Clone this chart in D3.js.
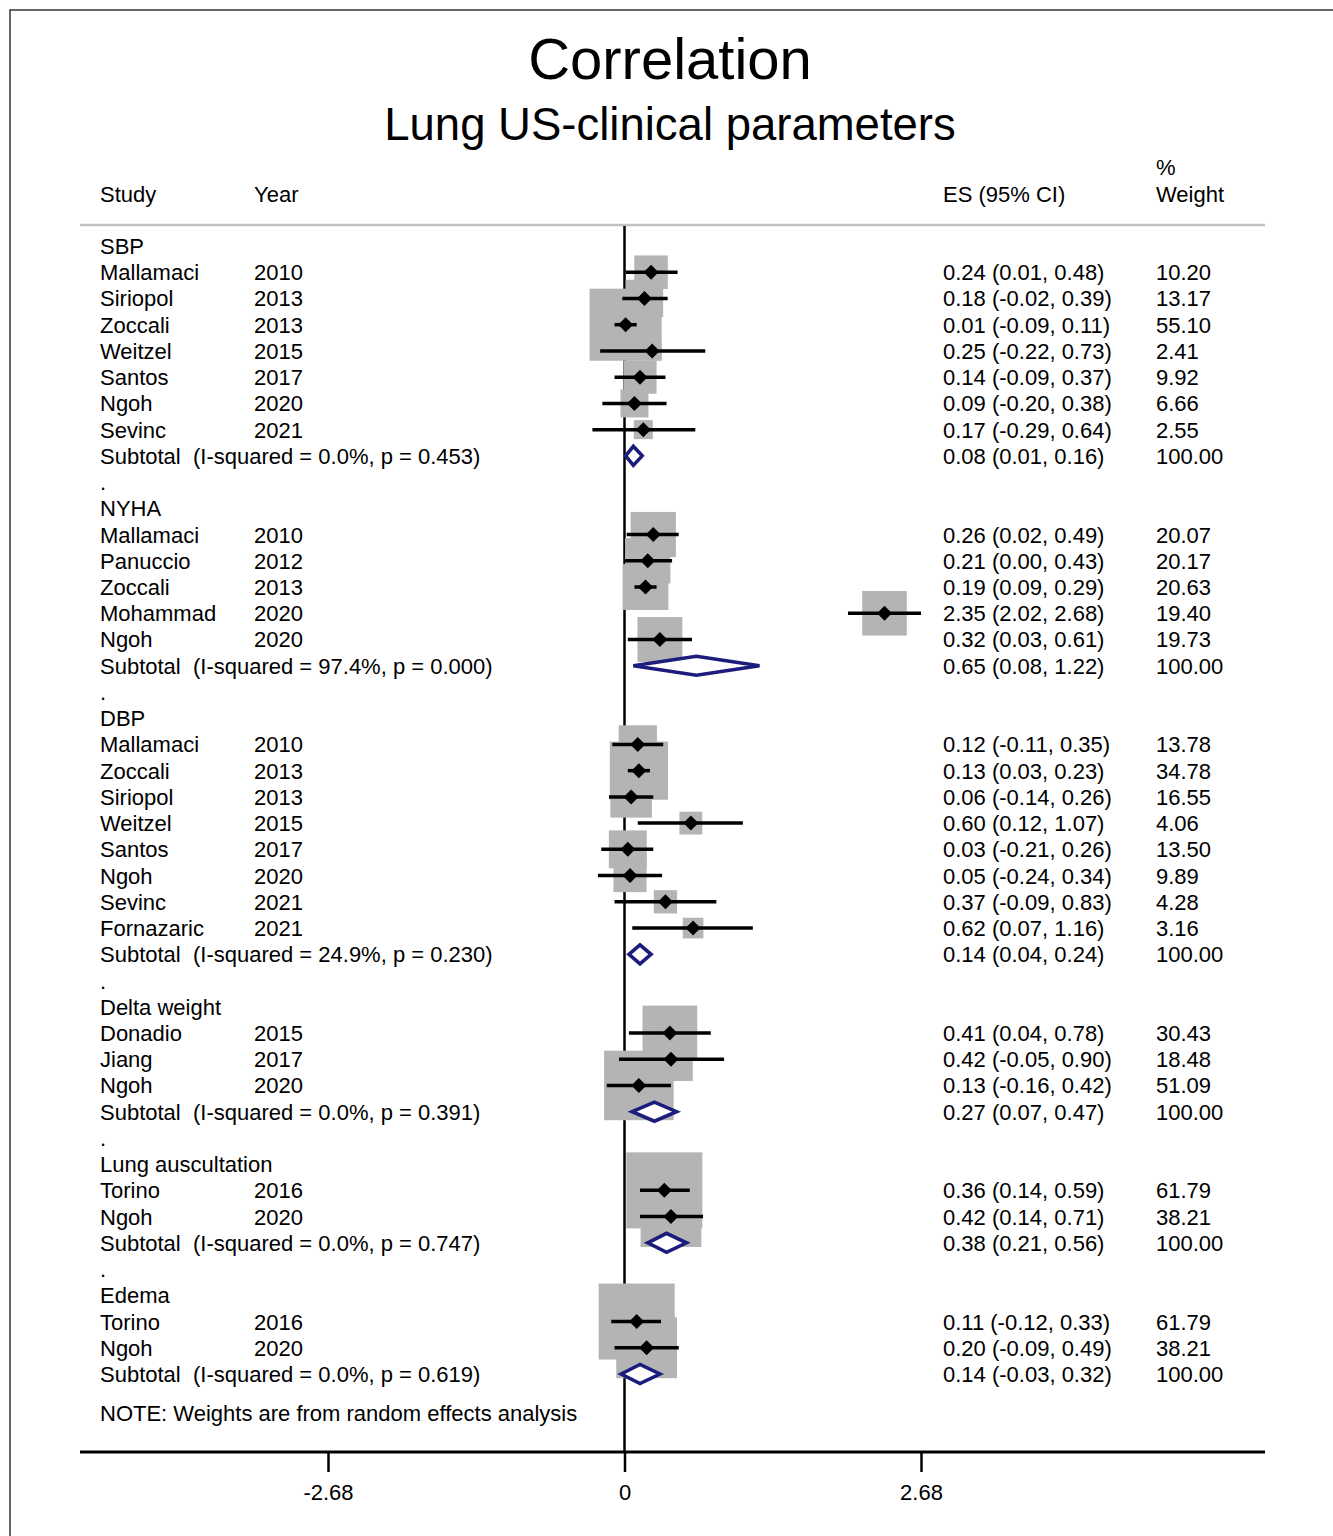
<!DOCTYPE html>
<html>
<head>
<meta charset="utf-8">
<script src="https://cdn.jsdelivr.net/npm/d3@7"></script>
<style>
  html, body { margin: 0; padding: 0; background: #fff; }
  svg text { font-family: "Liberation Sans", Arial, Helvetica, sans-serif; fill: #000; white-space: pre; }
</style>
</head>
<body>
<svg id="chart" width="1333" height="1536"></svg>
<script>
// ---------------- DATA ----------------
const groups = ["SBP", "NYHA", "DBP", "Delta weight", "Lung auscultation", "Edema"];

const studyGroup = [0,0,0,0,0,0,0, 1,1,1,1,1, 2,2,2,2,2,2,2,2, 3,3,3, 4,4, 5,5];
const studyName = ["Mallamaci","Siriopol","Zoccali","Weitzel","Santos","Ngoh","Sevinc",
  "Mallamaci","Panuccio","Zoccali","Mohammad","Ngoh",
  "Mallamaci","Zoccali","Siriopol","Weitzel","Santos","Ngoh","Sevinc","Fornazaric",
  "Donadio","Jiang","Ngoh",
  "Torino","Ngoh",
  "Torino","Ngoh"];
const studyYear = [2010,2013,2013,2015,2017,2020,2021,
  2010,2012,2013,2020,2020,
  2010,2013,2013,2015,2017,2020,2021,2021,
  2015,2017,2020,
  2016,2020,
  2016,2020];
const studyES = [0.24,0.18,0.01,0.25,0.14,0.09,0.17,
  0.26,0.21,0.19,2.35,0.32,
  0.12,0.13,0.06,0.60,0.03,0.05,0.37,0.62,
  0.41,0.42,0.13,
  0.36,0.42,
  0.11,0.20];
const studyLo = [0.01,-0.02,-0.09,-0.22,-0.09,-0.20,-0.29,
  0.02,0.00,0.09,2.02,0.03,
  -0.11,0.03,-0.14,0.12,-0.21,-0.24,-0.09,0.07,
  0.04,-0.05,-0.16,
  0.14,0.14,
  -0.12,-0.09];
const studyHi = [0.48,0.39,0.11,0.73,0.37,0.38,0.64,
  0.49,0.43,0.29,2.68,0.61,
  0.35,0.23,0.26,1.07,0.26,0.34,0.83,1.16,
  0.78,0.90,0.42,
  0.59,0.71,
  0.33,0.49];
const studyWeight = [10.20,13.17,55.10,2.41,9.92,6.66,2.55,
  20.07,20.17,20.63,19.40,19.73,
  13.78,34.78,16.55,4.06,13.50,9.89,4.28,3.16,
  30.43,18.48,51.09,
  61.79,38.21,
  61.79,38.21];

const subI2 = ["0.0%","97.4%","24.9%","0.0%","0.0%","0.0%"];
const subP  = ["0.453","0.000","0.230","0.391","0.747","0.619"];
const subES = [0.08,0.65,0.14,0.27,0.38,0.14];
const subLo = [0.01,0.08,0.04,0.07,0.21,-0.03];
const subHi = [0.16,1.22,0.24,0.47,0.56,0.32];
const subWeight = [100.00,100.00,100.00,100.00,100.00,100.00];

const tickValues = [-2.68, 0, 2.68];
const tickLabels = ["-2.68", "0", "2.68"];

const titleText = "Correlation";
const subtitleText = "Lung US-clinical parameters";
const noteText = "NOTE: Weights are from random effects analysis";

// ---------------- BUILD ROWS ----------------
const rows = [];
groups.forEach((g, gi) => {
  rows.push({type: "header", label: g});
  studyName.forEach((n, i) => {
    if (studyGroup[i] === gi) rows.push({type: "study", name: n, year: studyYear[i], es: studyES[i], lo: studyLo[i], hi: studyHi[i], w: studyWeight[i]});
  });
  rows.push({type: "sub", i2: subI2[gi], p: subP[gi], es: subES[gi], lo: subLo[gi], hi: subHi[gi], w: subWeight[gi]});
  if (gi < groups.length - 1) rows.push({type: "dot"});
});
rows.forEach((r, i) => r.idx = i);
const nRows = rows.length;

const fmt = v => (v < 0 ? "-" : "") + Math.abs(v).toFixed(2);
const ciText = r => `${fmt(r.es)} (${fmt(r.lo)}, ${fmt(r.hi)})`;

// ---------------- SCALES ----------------
const svg = d3.select("#chart");
const x = d3.scaleLinear().domain([-2.68, 2.68]).range([328, 921]);
const y = d3.scaleLinear().domain([0, nRows - 1]).range([246, 1374]);
const boxSideScale = d3.scaleLinear().domain([0, 10]).range([4.5, 95.5]);
const boxSide = w => boxSideScale(Math.sqrt(w));

const colStudy = 100, colYear = 254, colES = 943, colW = 1156;
const plotLeft = 80, plotRight = 1265, headerLineY = 225, axisY = 1452;
const fs = 22;
const base = 8;

// frame
svg.append("rect").attr("x", 10).attr("y", 10).attr("width", 1400).attr("height", 1600)
  .attr("fill", "none").attr("stroke", "#333").attr("stroke-width", 1.5);

// titles
svg.append("text").attr("x", 670).attr("y", 79).attr("text-anchor", "middle")
  .style("font-size", "58px").text(titleText);
svg.append("text").attr("x", 670).attr("y", 140).attr("text-anchor", "middle")
  .style("font-size", "45.5px").text(subtitleText);

// column headers
const hdr = svg.append("g").style("font-size", fs + "px");
hdr.append("text").attr("x", colStudy).attr("y", 194 + base).text("Study");
hdr.append("text").attr("x", colYear).attr("y", 194 + base).text("Year");
hdr.append("text").attr("x", colES).attr("y", 194 + base).text("ES (95% CI)");
hdr.append("text").attr("x", colW).attr("y", 167 + base).text("%");
hdr.append("text").attr("x", colW).attr("y", 194 + base).text("Weight");

svg.append("line").attr("x1", plotLeft).attr("x2", plotRight).attr("y1", headerLineY).attr("y2", headerLineY)
  .attr("stroke", "#c0c0c0").attr("stroke-width", 2.5);

// zero line
svg.append("line").attr("x1", x(0)).attr("x2", x(0)).attr("y1", headerLineY + 1).attr("y2", axisY)
  .attr("stroke", "#000").attr("stroke-width", 2.5);

const studyRows = rows.filter(r => r.type === "study");
const subRows = rows.filter(r => r.type === "sub");

// boxes
svg.append("g").selectAll("rect").data(studyRows).join("rect")
  .attr("x", d => x(d.es) - boxSide(d.w) / 2)
  .attr("y", d => y(d.idx) - boxSide(d.w) / 2)
  .attr("width", d => boxSide(d.w))
  .attr("height", d => boxSide(d.w))
  .attr("fill", "#b4b4b4");

// CI lines
svg.append("g").selectAll("line").data(studyRows).join("line")
  .attr("x1", d => x(d.lo)).attr("x2", d => x(d.hi))
  .attr("y1", d => y(d.idx)).attr("y2", d => y(d.idx))
  .attr("stroke", "#000").attr("stroke-width", 3.5);

// point diamonds
svg.append("g").selectAll("path").data(studyRows).join("path")
  .attr("d", d => {
    const cx = x(d.es), cy = y(d.idx), h = 7.5;
    return `M${cx - h},${cy}L${cx},${cy - h}L${cx + h},${cy}L${cx},${cy + h}Z`;
  })
  .attr("fill", "#000");

// subtotal diamonds
svg.append("g").selectAll("path").data(subRows).join("path")
  .attr("d", d => {
    const cy = y(d.idx), h = 9.5;
    return `M${x(d.lo)},${cy}L${x(d.es)},${cy - h}L${x(d.hi)},${cy}L${x(d.es)},${cy + h}Z`;
  })
  .attr("fill", "#fff").attr("stroke", "#1c1c7c").attr("stroke-width", 3.6).attr("stroke-linejoin", "miter");

// text rows
const tg = svg.append("g").style("font-size", fs + "px");
rows.forEach(r => {
  const ty = y(r.idx) + base;
  if (r.type === "header") {
    tg.append("text").attr("x", colStudy).attr("y", ty).text(r.label);
  } else if (r.type === "study") {
    tg.append("text").attr("x", colStudy).attr("y", ty).text(r.name);
    tg.append("text").attr("x", colYear).attr("y", ty).text(r.year);
    tg.append("text").attr("x", colES).attr("y", ty).text(ciText(r));
    tg.append("text").attr("x", colW).attr("y", ty).text(r.w.toFixed(2));
  } else if (r.type === "sub") {
    tg.append("text").attr("x", colStudy).attr("y", ty).text(`Subtotal  (I-squared = ${r.i2}, p = ${r.p})`);
    tg.append("text").attr("x", colES).attr("y", ty).text(ciText(r));
    tg.append("text").attr("x", colW).attr("y", ty).text(r.w.toFixed(2));
  } else if (r.type === "dot") {
    tg.append("text").attr("x", colStudy).attr("y", ty).text(".");
  }
});
tg.append("text").attr("x", colStudy).attr("y", y(nRows - 1 + 1.5) + base).text(noteText);

// axis
svg.append("line").attr("x1", plotLeft).attr("x2", plotRight).attr("y1", axisY).attr("y2", axisY)
  .attr("stroke", "#000").attr("stroke-width", 3);
const axis = d3.axisBottom(x).tickValues(tickValues).tickSize(20).tickPadding(12)
  .tickFormat((d, i) => tickLabels[i]);
const ag = svg.append("g").attr("transform", `translate(0,${axisY})`).call(axis);
ag.select(".domain").remove();
ag.selectAll(".tick line").attr("stroke", "#000").attr("stroke-width", 2.5);
ag.selectAll(".tick text").style("font-size", fs + "px")
  .style("font-family", '"Liberation Sans", Arial, Helvetica, sans-serif').attr("fill", "#000");
</script>
</body>
</html>
